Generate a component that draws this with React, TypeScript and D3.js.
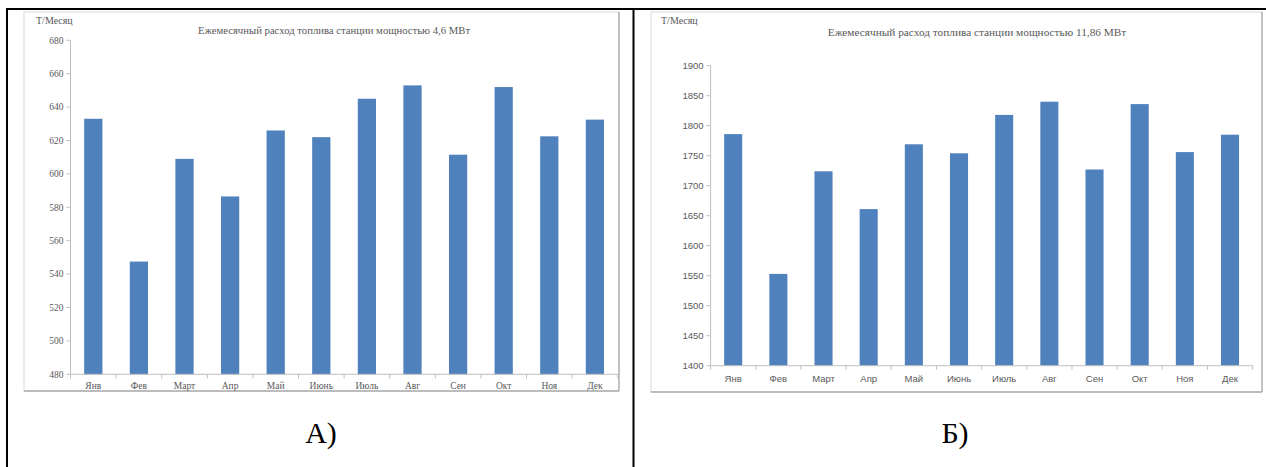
import React from "react";
import * as d3 from "d3";

const months = ["Янв", "Фев", "Март", "Апр", "Май", "Июнь", "Июль", "Авг", "Сен", "Окт", "Ноя", "Дек"];
const fuelA = [633, 547.5, 609, 586.5, 626, 622, 645, 653, 611.5, 652, 622.5, 632.5];
const fuelB = [1786, 1553, 1724, 1661, 1769, 1754, 1818, 1840, 1727, 1836, 1756, 1785];
const ticksA = [480, 500, 520, 540, 560, 580, 600, 620, 640, 660, 680];
const ticksB = [1400, 1450, 1500, 1550, 1600, 1650, 1700, 1750, 1800, 1850, 1900];
const titleA = "Ежемесячный расход топлива станции мощностью 4,6 МВт";
const titleB = "Ежемесячный расход топлива станции мощностью 11,86 МВт";
const unitLabel = "Т/Месяц";
const captions = ["А)", "Б)"];

const BAR = "#4F81BD";
const TEXT = "#595959";
const AXIS = "#BFBFBF";
const SERIF = "'Liberation Serif', 'DejaVu Serif', serif";
const SANS = "'Liberation Sans', Arial, sans-serif";

type ChartProps = {
  frame: { x0: number; y0: number; x1: number; y1: number };
  plot: { x0: number; x1: number; yTop: number; yBottom: number };
  domain: [number, number];
  ticks: number[];
  values: number[];
  title: string;
  titlePos: { x: number; y: number; size: number };
  unitPos: { x: number; y: number };
  tickFont: string;
  tickSize: number;
  xLabelY: number;
};

function Chart(p: ChartProps) {
  const x = d3
    .scaleBand<string>()
    .domain(months)
    .range([p.plot.x0, p.plot.x1])
    .paddingInner(0.6)
    .paddingOuter(0.3);
  const y = d3.scaleLinear().domain(p.domain).range([p.plot.yBottom, p.plot.yTop]);
  const step = x.step();
  return (
    <g>
      <rect
        x={p.frame.x0}
        y={p.frame.y0}
        width={p.frame.x1 - p.frame.x0}
        height={p.frame.y1 - p.frame.y0}
        fill="#fff"
        stroke="#D9D9D9"
        strokeWidth={1}
      />
      <line x1={p.frame.x0} x2={p.frame.x1} y1={p.frame.y1} y2={p.frame.y1} stroke="#8C8C8C" strokeWidth={1.2} />
      <line x1={p.frame.x1} x2={p.frame.x1} y1={p.frame.y0} y2={p.frame.y1} stroke="#A6A6A6" strokeWidth={1.2} />
      <text x={p.unitPos.x} y={p.unitPos.y} fontFamily={SERIF} fontSize={10} fill={TEXT}>
        {unitLabel}
      </text>
      <text
        x={p.titlePos.x}
        y={p.titlePos.y}
        fontFamily={SERIF}
        fontSize={p.titlePos.size}
        fill={TEXT}
        textAnchor="middle"
      >
        {p.title}
      </text>
      {/* y axis */}
      <line x1={p.plot.x0} x2={p.plot.x0} y1={y(p.domain[1])} y2={y(p.domain[0])} stroke={AXIS} />
      {p.ticks.map((t) => (
        <g key={t}>
          <line x1={p.plot.x0 - 4} x2={p.plot.x0} y1={y(t)} y2={y(t)} stroke={AXIS} />
          <text
            x={p.plot.x0 - 7}
            y={y(t)}
            dy="0.35em"
            textAnchor="end"
            fontFamily={p.tickFont}
            fontSize={p.tickSize}
            fill={TEXT}
          >
            {t}
          </text>
        </g>
      ))}
      {/* bars */}
      {months.map((m, i) => (
        <rect
          key={m}
          x={x(m)}
          y={y(p.values[i])}
          width={x.bandwidth()}
          height={y(p.domain[0]) - y(p.values[i])}
          fill={BAR}
        />
      ))}
      {/* x axis */}
      <line x1={p.plot.x0} x2={p.plot.x1} y1={y(p.domain[0])} y2={y(p.domain[0])} stroke={AXIS} />
      {d3.range(months.length + 1).map((i) => (
        <line
          key={i}
          x1={p.plot.x0 + i * step}
          x2={p.plot.x0 + i * step}
          y1={y(p.domain[0])}
          y2={y(p.domain[0]) + 4}
          stroke={AXIS}
        />
      ))}
      {months.map((m) => (
        <text
          key={m}
          x={(x(m) as number) + x.bandwidth() / 2}
          y={p.xLabelY}
          dy="0.35em"
          textAnchor="middle"
          fontFamily={p.tickFont}
          fontSize={p.tickSize}
          fill={TEXT}
        >
          {m}
        </text>
      ))}
    </g>
  );
}

export default function App() {
  return (
    <svg
      width={1266}
      height={467}
      style={{ position: "absolute", left: 0, top: 0, display: "block", background: "#fff" }}
    >
      <rect x={0} y={0} width={1266} height={467} fill="#fff" />
      <Chart
        frame={{ x0: 24, y0: 12, x1: 619, y1: 391 }}
        plot={{ x0: 70.5, x1: 617.7, yTop: 40.3, yBottom: 374.3 }}
        domain={[480, 680]}
        ticks={ticksA}
        values={fuelA}
        title={titleA}
        titlePos={{ x: 334, y: 34, size: 10.7 }}
        unitPos={{ x: 36, y: 24 }}
        tickFont={SERIF}
        tickSize={9.5}
        xLabelY={386}
      />
      <Chart
        frame={{ x0: 651, y0: 12, x1: 1262, y1: 392 }}
        plot={{ x0: 710.6, x1: 1252.6, yTop: 65.7, yBottom: 365.7 }}
        domain={[1400, 1900]}
        ticks={ticksB}
        values={fuelB}
        title={titleB}
        titlePos={{ x: 977, y: 36, size: 11.3 }}
        unitPos={{ x: 661, y: 24 }}
        tickFont={SANS}
        tickSize={9.5}
        xLabelY={379}
      />
      {/* table borders */}
      <line x1={6} x2={1266} y1={9} y2={9} stroke="#000" strokeWidth={2} />
      <line x1={7} x2={7} y1={8} y2={467} stroke="#000" strokeWidth={2} />
      <line x1={633.5} x2={633.5} y1={8} y2={467} stroke="#000" strokeWidth={2} />
      <text x={321} y={443} textAnchor="middle" fontFamily={SERIF} fontSize={30} fill="#000">
        {captions[0]}
      </text>
      <text x={955} y={443} textAnchor="middle" fontFamily={SERIF} fontSize={30} fill="#000">
        {captions[1]}
      </text>
    </svg>
  );
}
